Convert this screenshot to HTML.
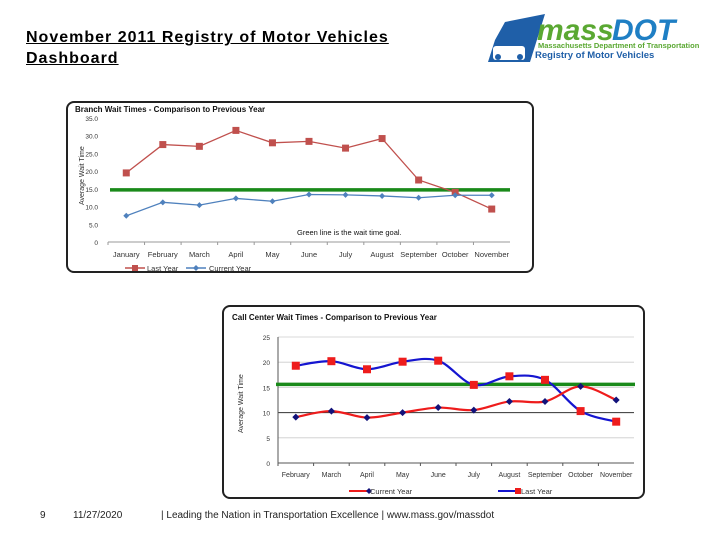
<!DOCTYPE html>
<html><head><meta charset="utf-8"><style>
body{margin:0;width:720px;height:540px;background:#fff;position:relative;font-family:"Liberation Sans",sans-serif;overflow:hidden}
.t{position:absolute;left:26px;font-weight:bold;text-decoration:underline;font-size:16px;line-height:21px;letter-spacing:1px}
.f{position:absolute;top:510px;font-size:10px;color:#222}
svg{position:absolute;left:0;top:0}
</style></head><body>
<div class="t" style="top:27px">November 2011 Registry of Motor Vehicles<br>Dashboard</div>
<div class="f" style="left:40px">9</div>
<div class="f" style="left:73px">11/27/2020</div>
<div class="f" style="left:161px">| Leading the Nation in Transportation Excellence | www.mass.gov/massdot</div>
<svg width="720" height="540" id="s">
<g>
<path d="M488 62 L495 40 L505 22 L545 14 L530 62 Z" fill="#1f5fa8"/>
<rect x="493" y="46" width="32" height="14" rx="3" fill="#fff"/>
<circle cx="498" cy="57" r="3" fill="#1f5fa8"/><circle cx="520" cy="57" r="3" fill="#1f5fa8"/>
<text x="537" y="40" font-size="30" font-style="italic" font-weight="bold" fill="#5aa832" font-family="Liberation Sans">mass</text>
<text x="612" y="40" font-size="30" font-style="italic" font-weight="bold" fill="#1f7fc4" font-family="Liberation Sans">DOT</text>
<text x="538" y="48" font-size="7.5" font-weight="bold" fill="#5aa832">Massachusetts Department of Transportation</text>
<text x="535" y="58" font-size="9.5" font-weight="bold" fill="#1f5fa8">Registry of Motor Vehicles</text>
</g>
</svg>
<script>
const months1=["January","February","March","April","May","June","July","August","September","October","November"];
const branchLast=[19.5,27.5,27,31.5,28,28.4,26.5,29.2,17.5,14,9.3];
const branchCurrent=[7.4,11.2,10.4,12.3,11.5,13.4,13.3,13,12.5,13.2,13.2];
const branchTicks=[0,5,10,15,20,25,30,35];
const branchGoal=14.7;
const months2=["February","March","April","May","June","July","August","September","October","November"];
const callLast=[19.3,20.2,18.6,20.1,20.3,15.5,17.2,16.5,10.3,8.2];
const callCurrent=[9.1,10.3,9,10,11,10.5,12.2,12.2,15.2,12.5];
const callTicks=[0,5,10,15,20,25];
const callGoal=15.6;

const S=document.getElementById('s');const NS='http://www.w3.org/2000/svg';
function mk(t,a,p){const e=document.createElementNS(NS,t);for(const k in a)e.setAttribute(k,a[k]);(p||S).appendChild(e);return e}
function txt(x,y,s,a,p){const e=mk('text',Object.assign({x:x,y:y,'font-size':8,fill:'#333','font-family':'Liberation Sans'},a),p);e.textContent=s;return e}
function smooth(pts){let d='M'+pts[0][0]+' '+pts[0][1];for(let i=0;i<pts.length-1;i++){const p0=pts[i-1]||pts[i],p1=pts[i],p2=pts[i+1],p3=pts[i+2]||p2;d+=' C'+(p1[0]+(p2[0]-p0[0])/6)+' '+(p1[1]+(p2[1]-p0[1])/6)+' '+(p2[0]-(p3[0]-p1[0])/6)+' '+(p2[1]-(p3[1]-p1[1])/6)+' '+p2[0]+' '+p2[1]}return d}

// chart 1
{const g=mk('g',{});
const b=mk('rect',{x:67,y:102,width:466,height:170,rx:7,fill:'#fff',stroke:'#222','stroke-width':2},g);
const X0=108,X1=510,Y0=242,Y1=118,bw=(X1-X0)/months1.length;
const x=i=>X0+bw*(i+0.5),y=v=>Y0-(v/35)*(Y0-Y1);
const ti=txt(75,112,'Branch Wait Times - Comparison to Previous Year',{'font-size':8,'font-weight':'bold',fill:'#111'},g);
branchTicks.forEach(t=>{const l=txt(98,y(t)+3,'',{'text-anchor':'end','font-size':6.5},g);l.textContent=t===0?'0':t.toFixed(1);});
const yt=txt(0,0,'Average Wait Time',{'font-size':7,transform:'translate(84,205) rotate(-90)'},g);
mk('line',{x1:X0,y1:Y0,x2:X1,y2:Y0,stroke:'#999'},g);
months1.forEach((m,i)=>{mk('line',{x1:X0+bw*i,y1:Y0,x2:X0+bw*i,y2:Y0+3,stroke:'#999'},g);const l=txt(x(i),257,m,{'text-anchor':'middle','font-size':7.5},g);});
const gl=mk('line',{x1:110,x2:510,y1:y(branchGoal),y2:y(branchGoal),stroke:'#1a8a1a','stroke-width':3.5},g);
const p1=mk('polyline',{points:branchLast.map((v,i)=>x(i)+','+y(v)).join(' '),fill:'none',stroke:'#c0504d','stroke-width':1.3},g);
branchLast.forEach((v,i)=>{const r=mk('rect',{x:x(i)-3.5,y:y(v)-3.5,width:7,height:7,fill:'#c0504d'},g);});
const p2=mk('polyline',{points:branchCurrent.map((v,i)=>x(i)+','+y(v)).join(' '),fill:'none',stroke:'#4f81bd','stroke-width':1.3},g);
branchCurrent.forEach((v,i)=>{const r=mk('path',{d:`M${x(i)} ${y(v)-3}L${x(i)+3} ${y(v)}L${x(i)} ${y(v)+3}L${x(i)-3} ${y(v)}Z`,fill:'#4f81bd'},g);});
const n=txt(297,235,'Green line is the wait time goal.',{'font-size':7.5,fill:'#111'},g);
const lg=mk('g',{},g);
mk('line',{x1:125,x2:145,y1:268,y2:268,stroke:'#c0504d','stroke-width':1.5},lg);mk('rect',{x:132,y:265,width:6,height:6,fill:'#c0504d'},lg);txt(147,271,'Last Year',{'font-size':7.5},lg);
mk('line',{x1:186,x2:206,y1:268,y2:268,stroke:'#4f81bd','stroke-width':1.5},lg);mk('path',{d:'M196 265L199 268L196 271L193 268Z',fill:'#4f81bd'},lg);txt(209,271,'Current Year',{'font-size':7.5},lg);
}
// chart 2
{const g=mk('g',{});
const b=mk('rect',{x:223,y:306,width:421,height:192,rx:7,fill:'#fff',stroke:'#222','stroke-width':2},g);
const X0=278,X1=634,Y0=463,Y1=337,bw=(X1-X0)/months2.length;
const x=i=>X0+bw*(i+0.5),y=v=>Y0-(v/25)*(Y0-Y1);
const ti=txt(232,320,'Call Center Wait Times - Comparison to Previous Year',{'font-size':8,'font-weight':'bold',fill:'#111'},g);
callTicks.forEach(t=>{if(t>0)mk('line',{x1:X0,x2:X1,y1:y(t),y2:y(t),stroke:t===10?'#333':'#ccc','stroke-width':t===10?1:0.8},g);const l=txt(270,y(t)+3,String(t),{'text-anchor':'end','font-size':6.5},g);});
const yt=txt(0,0,'Average Wait Time',{'font-size':7,transform:'translate(243,433) rotate(-90)'},g);
mk('line',{x1:X0,y1:Y0,x2:X1,y2:Y0,stroke:'#555'},g);mk('line',{x1:X0,y1:Y0,x2:X0,y2:Y1,stroke:'#555'},g);
months2.forEach((m,i)=>{mk('line',{x1:X0+bw*i,y1:Y0,x2:X0+bw*i,y2:Y0+3,stroke:'#555'},g);const l=txt(x(i),477,m,{'text-anchor':'middle','font-size':7},g);});
const gl=mk('line',{x1:276,x2:635,y1:y(callGoal),y2:y(callGoal),stroke:'#1a8a1a','stroke-width':3.5},g);
const l1=mk('path',{d:smooth(callLast.map((v,i)=>[x(i),y(v)])),fill:'none',stroke:'#1515d0','stroke-width':2.2},g);
const l2=mk('path',{d:smooth(callCurrent.map((v,i)=>[x(i),y(v)])),fill:'none',stroke:'#ee1c1c','stroke-width':2.2},g);
callLast.forEach((v,i)=>{const r=mk('rect',{x:x(i)-4,y:y(v)-4,width:8,height:8,fill:'#ee1c1c'},g);});
callCurrent.forEach((v,i)=>{const r=mk('path',{d:`M${x(i)} ${y(v)-3.5}L${x(i)+3.5} ${y(v)}L${x(i)} ${y(v)+3.5}L${x(i)-3.5} ${y(v)}Z`,fill:'#12127a'},g);});
const lg=mk('g',{},g);
mk('line',{x1:349,x2:369,y1:491,y2:491,stroke:'#ee1c1c','stroke-width':2},lg);mk('path',{d:'M369 488L372 491L369 494L366 491Z',fill:'#12127a'},lg);txt(370,494,'Current Year',{'font-size':7.5},lg);
mk('line',{x1:498,x2:518,y1:491,y2:491,stroke:'#1515d0','stroke-width':2},lg);mk('rect',{x:515,y:488,width:6,height:6,fill:'#ee1c1c'},lg);txt(521,494,'Last Year',{'font-size':7.5},lg);
}
</script>
</body></html>
